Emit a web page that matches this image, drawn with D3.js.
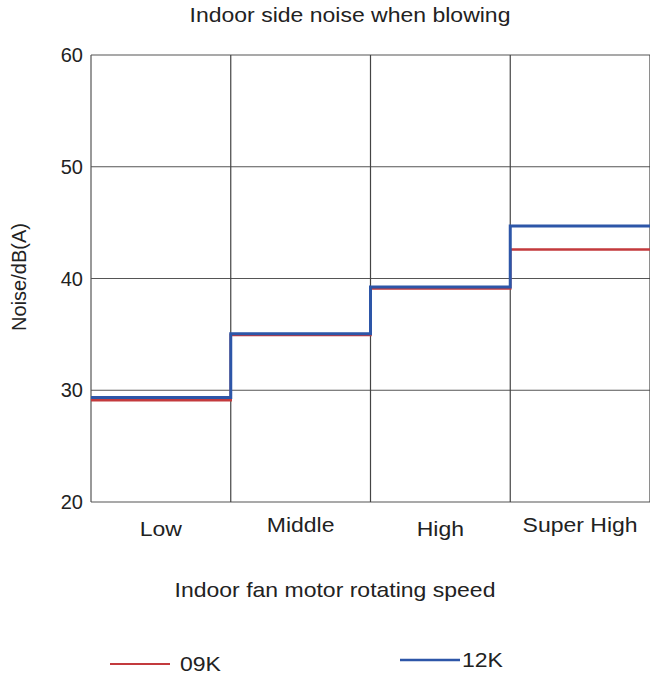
<!DOCTYPE html>
<html>
<head>
<meta charset="utf-8">
<script src="https://cdn.jsdelivr.net/npm/d3@7"></script>
<style>
  body { margin: 0; background: #fff; }
  text { font-family: "Liberation Sans", Arial, sans-serif; fill: #222; }
</style>
</head>
<body>
<script>
// canvas
var w = 650;
var h = 679;
var fs = 20;      // font size
var sx = 1.15;    // text in the picture is a bit wide

// data
var categories = ["Low", "Middle", "High", "Super High"];
var noise09K = [29.1, 34.95, 39.1, 42.6];
var noise12K = [29.35, 35.05, 39.25, 44.7];
var yTicks = [20, 30, 40, 50, 60];
var seriesNames = ["09K", "12K"];

var svg = d3.select("body").append("svg")
  .attr("width", w)
  .attr("height", h);

var x = d3.scaleBand()
  .domain(categories)
  .range([91, 650])
  .padding(0);

var y = d3.scaleLinear()
  .domain([20, 60])
  .range([502, 55]);

// wide text helper
function wideText(g, px, py, anchor, str) {
  return g.append("text")
    .attr("transform", "translate(" + px + "," + py + ") scale(" + sx + ",1)")
    .attr("text-anchor", anchor)
    .style("font-size", fs + "px")
    .text(str);
}

// grid
svg.append("g")
  .selectAll("line")
  .data(yTicks)
  .join("line")
  .attr("x1", 91).attr("x2", 650)
  .attr("y1", d => y(d)).attr("y2", d => y(d))
  .attr("stroke", "#555")
  .attr("stroke-width", 1.2);

svg.append("g")
  .selectAll("line")
  .data(categories)
  .join("line")
  .attr("x1", d => x(d) + x.bandwidth()).attr("x2", d => x(d) + x.bandwidth())
  .attr("y1", y(60)).attr("y2", y(20))
  .attr("stroke", "#444")
  .attr("stroke-width", 1.2);

svg.append("line")
  .attr("x1", 91).attr("x2", 91)
  .attr("y1", y(60)).attr("y2", y(20))
  .attr("stroke", "#555")
  .attr("stroke-width", 1.2);

// y axis ticks
svg.append("g")
  .selectAll("text")
  .data(yTicks)
  .join("text")
  .attr("x", 83)
  .attr("y", d => y(d) + 7)
  .attr("text-anchor", "end")
  .style("font-size", fs + "px")
  .text(d => d);

// category labels
var catG = svg.append("g");
categories.forEach(function(c, i) {
  wideText(catG, x(c) + x.bandwidth() / 2, i % 2 === 0 ? 536 : 532, "middle", c);
});

// lines
var line = d3.line()
  .x(d => d[0])
  .y(d => y(d[1]))
  .curve(d3.curveStepAfter);

function stepPoints(vals) {
  var pts = categories.map((c, i) => [x(c), vals[i]]);
  pts.push([x.range()[1], vals[vals.length - 1]]);
  return pts;
}

svg.append("path")
  .attr("d", line(stepPoints(noise09K)))
  .attr("fill", "none")
  .attr("stroke", "#c33a3d")
  .attr("stroke-width", 2.5);

svg.append("path")
  .attr("d", line(stepPoints(noise12K)))
  .attr("fill", "none")
  .attr("stroke", "#2d56a8")
  .attr("stroke-width", 3);

// titles
wideText(svg, 350, 22, "middle", "Indoor side noise when blowing");
wideText(svg, 335, 597, "middle", "Indoor fan motor rotating speed");

svg.append("text")
  .attr("transform", "translate(26,277) rotate(-90)")
  .attr("text-anchor", "middle")
  .style("font-size", fs + "px")
  .text("Noise/dB(A)");

// legend
var legend = [
  { name: seriesNames[0], color: "#c33a3d", x: 110, y: 664, tx: 70, w: 2 },
  { name: seriesNames[1], color: "#2d56a8", x: 400, y: 660, tx: 62, w: 2.5 }
];
legend.forEach(function(d) {
  var g = svg.append("g").attr("transform", "translate(" + d.x + "," + d.y + ")");
  g.append("line")
    .attr("x1", 0).attr("x2", 60)
    .attr("stroke", d.color)
    .attr("stroke-width", d.w);
  wideText(g, d.tx, 7, "start", d.name);
});
</script>
</body>
</html>
